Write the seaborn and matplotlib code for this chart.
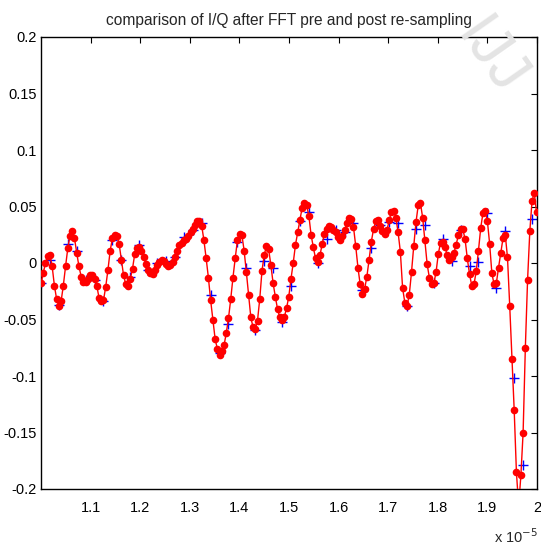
import numpy as np
import pandas as pd
import seaborn as sns
import matplotlib
matplotlib.use("Agg")
import matplotlib.pyplot as plt

# ---- data (time axis in units of 1e-5 s) ----
t_start = 1.0
red_step = 0.0045     # re-sampled grid
blue_step = 0.018     # original grid

red_vals = [
    -0.018, -0.009, 0.000, 0.006, 0.007, -0.003, -0.020, -0.032, -0.038, -0.034,
    -0.020, -0.003, 0.013, 0.024, 0.028, 0.022, 0.009, -0.003, -0.012, -0.017,
    -0.017, -0.014, -0.011, -0.011, -0.014, -0.020, -0.031, -0.034, -0.033, -0.021,
    -0.006, 0.011, 0.022, 0.025, 0.024, 0.017, 0.003, -0.011, -0.019, -0.020,
    -0.014, -0.005, 0.008, 0.013, 0.014, 0.011, 0.005, -0.001, -0.006, -0.009,
    -0.010, -0.006, -0.002, 0.001, 0.003, 0.002, -0.001, -0.003, -0.002, 0.001,
    0.005, 0.011, 0.016, 0.018, 0.020, 0.021, 0.024, 0.027, 0.030, 0.034,
    0.037, 0.037, 0.033, 0.020, 0.004, -0.013, -0.033, -0.050, -0.067, -0.076,
    -0.081, -0.078, -0.073, -0.062, -0.049, -0.032, -0.013, 0.004, 0.020, 0.026,
    0.025, 0.011, -0.008, -0.028, -0.048, -0.057, -0.058, -0.051, -0.032, -0.007,
    0.007, 0.015, 0.012, -0.002, -0.018, -0.030, -0.041, -0.048, -0.050, -0.048,
    -0.040, -0.030, -0.014, 0.000, 0.016, 0.027, 0.038, 0.049, 0.053, 0.051,
    0.042, 0.025, 0.014, 0.004, 0.001, 0.007, 0.017, 0.026, 0.030, 0.033,
    0.032, 0.029, 0.027, 0.023, 0.020, 0.024, 0.029, 0.035, 0.040, 0.039,
    0.032, 0.015, -0.004, -0.019, -0.027, -0.023, -0.012, 0.003, 0.019, 0.030,
    0.037, 0.038, 0.033, 0.028, 0.026, 0.029, 0.038, 0.045, 0.046, 0.040,
    0.027, 0.010, -0.022, -0.035, -0.038, -0.028, -0.008, 0.015, 0.036, 0.051,
    0.053, 0.040, 0.020, -0.001, -0.013, -0.019, -0.018, -0.008, 0.008, 0.018,
    0.019, 0.014, 0.007, 0.003, 0.005, 0.009, 0.016, 0.025, 0.030, 0.030,
    0.021, 0.004, -0.010, -0.020, -0.019, -0.007, 0.011, 0.031, 0.044, 0.046,
    0.037, 0.017, -0.009, -0.019, -0.018, -0.004, 0.009, 0.022, 0.025, 0.005,
    -0.038, -0.085, -0.130, -0.185, -0.215, -0.188, -0.150, -0.075, -0.015, 0.028,
    0.055, 0.062, 0.045,
]

blue_vals = [
    -0.018, 0.003, -0.037, 0.017, 0.011, -0.015, -0.015, -0.034, 0.020, 0.003,
    -0.012, 0.016, -0.006, 0.000, 0.002, 0.005, 0.023, 0.029, 0.035, -0.028,
    -0.080, -0.054, 0.019, -0.004, -0.059, 0.002, -0.004, -0.052, -0.020, 0.037,
    0.045, 0.000, 0.021, 0.029, 0.027, 0.035, -0.024, 0.013, 0.034, 0.036,
    0.035, -0.038, 0.030, 0.034, -0.018, 0.021, 0.002, 0.029, -0.003, 0.001,
    0.044, -0.022, 0.028, -0.102, -0.179, 0.039,
]

x_ticks = [1.1, 1.2, 1.3, 1.4, 1.5, 1.6, 1.7, 1.8, 1.9, 2.0]
x_tick_labels = ["1.1", "1.2", "1.3", "1.4", "1.5", "1.6", "1.7", "1.8", "1.9", "2"]
y_ticks = [-0.2, -0.15, -0.1, -0.05, 0.0, 0.05, 0.1, 0.15, 0.2]
y_tick_labels = ["-0.2", "-0.15", "-0.1", "-0.05", "0", "0.05", "0.1", "0.15", "0.2"]

title = "comparison of I/Q after FFT pre and post re-sampling"

red_df = pd.DataFrame({"t": t_start + red_step * np.arange(len(red_vals)), "v": red_vals})
blue_df = pd.DataFrame({"t": t_start + blue_step * np.arange(len(blue_vals)), "v": blue_vals})

# ---- style ----
sns.set_style("white")
plt.rcParams["font.family"] = ["Liberation Sans", "DejaVu Sans"]
plt.rcParams["axes.linewidth"] = 1.0

fig = plt.figure(figsize=(5.41, 5.47), dpi=100)
ax = fig.add_axes([41 / 541, 1 - 489 / 547, 496 / 541, 452 / 547])

# watermark
fig.text(0.905, 0.895, "IJJ", fontsize=44, color="#e4e4e4", rotation=-55,
         ha="center", va="center", fontweight="normal", zorder=0)
ax.set_facecolor("none")

sns.scatterplot(data=blue_df, x="t", y="v", ax=ax, marker="+", color="blue",
                s=55, linewidth=1.0, zorder=2, legend=False)
sns.lineplot(data=red_df, x="t", y="v", ax=ax, color="red", linewidth=1.0,
             marker="o", markersize=5.5, markeredgewidth=0, zorder=3,
             estimator=None, sort=False)

ax.set_xlim(1.0, 2.0)
ax.set_ylim(-0.2, 0.2)
ax.set_xticks(x_ticks)
ax.set_xticklabels(x_tick_labels)
ax.set_yticks(y_ticks)
ax.set_yticklabels(y_tick_labels)
ax.set_xlabel("")
ax.set_ylabel("")
ax.tick_params(direction="in", length=4, width=0.8, top=True, right=True,
               labelsize=10.5, colors="black")
ax.tick_params(axis="y", pad=3)
ax.tick_params(axis="x", pad=9)
for s in ax.spines.values():
    s.set_visible(True)
    s.set_color("black")
    s.set_linewidth(1.0)

ax.set_title(title, fontsize=11.2, pad=9)
fig.text(538 / 541, 1 - 537 / 547, r"x 10$^{-5}$", fontsize=10.5, ha="right", va="center")

fig.savefig("out.png", dpi=100)
